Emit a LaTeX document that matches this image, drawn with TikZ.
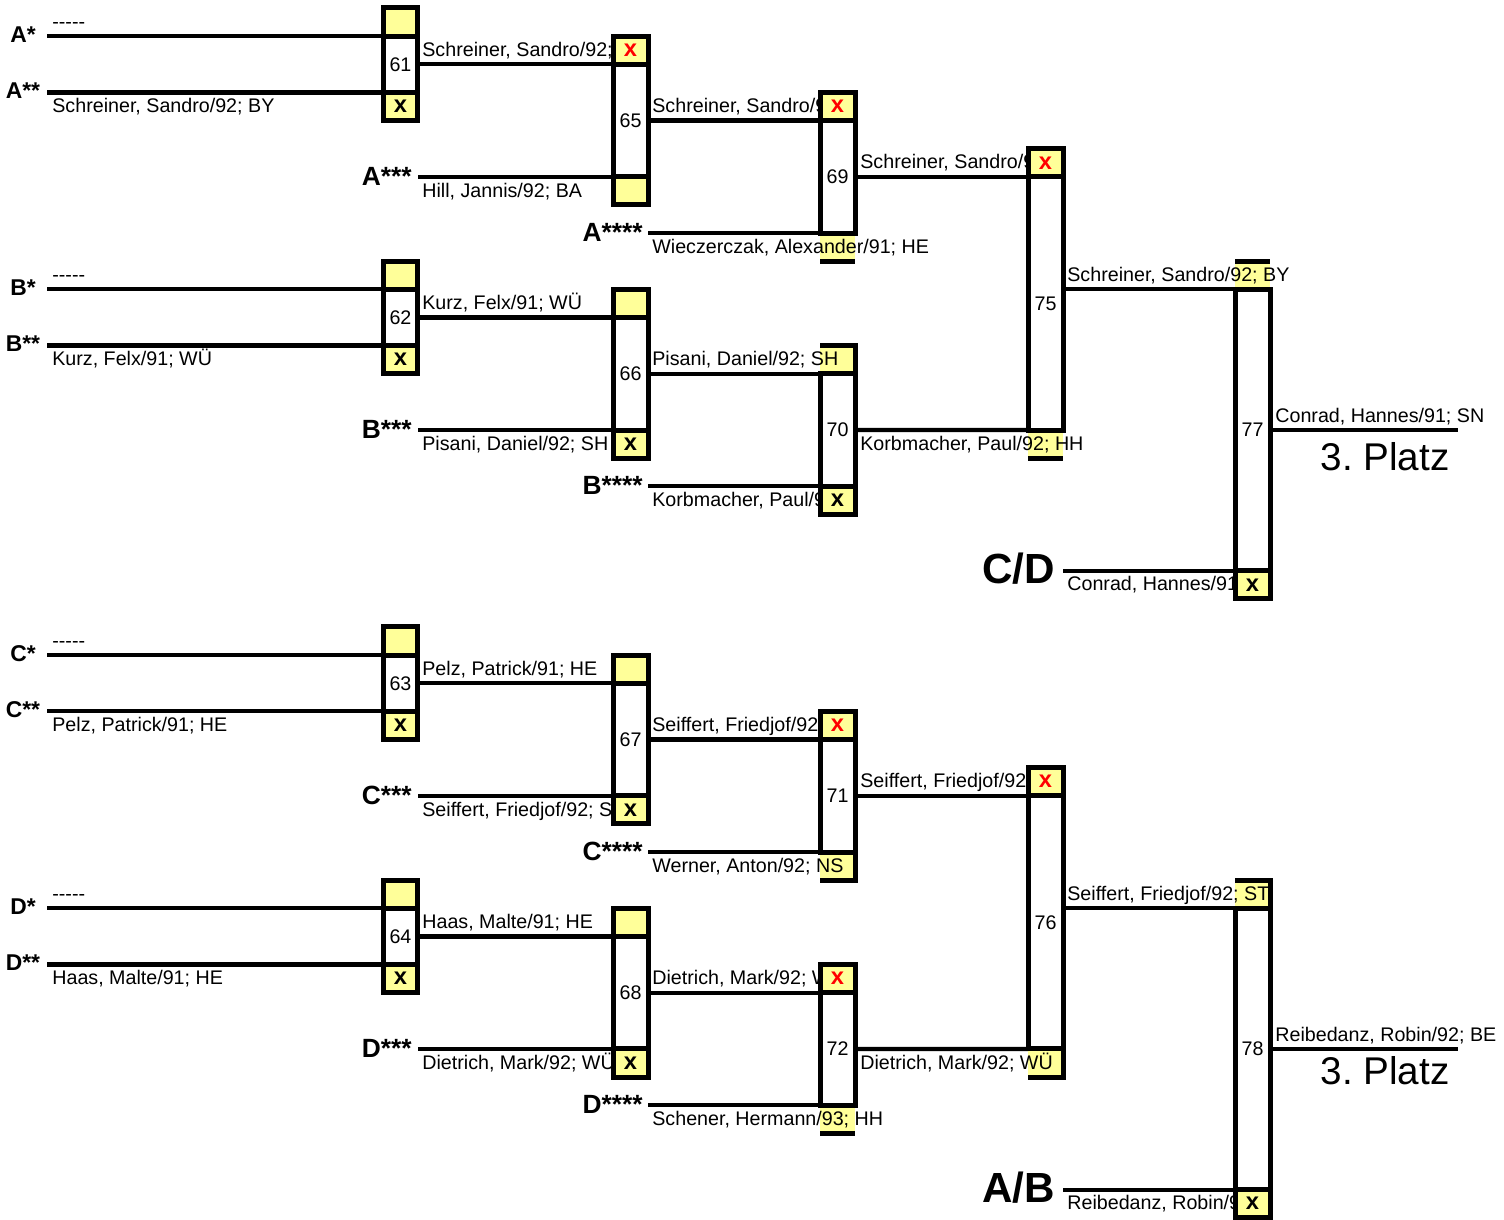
\documentclass[tikz,border=0pt]{standalone}
\usepackage{fontspec}
\setmainfont{Liberation Sans}
\frenchspacing
\definecolor{gelb}{HTML}{FFFF99}
\newcommand\gekappt[2]{\begin{scope}\clip (0,-1) rectangle (#1,44);#2\end{scope}}
\begin{document}
\begin{tikzpicture}[
        x=0.02cm, y=-0.5628cm,
        feld/.style={rectangle, fill=gelb, anchor=north west, inner sep=0pt, outer sep=0pt, minimum width=0.7cm, minimum height=0.5628cm, font=\bfseries\fontsize{13.5}{14}\selectfont},
        voll/.style={feld, draw, line width=0.1cm},
        rot/.style={text=red},
        mitte/.style={rectangle, draw, line width=0.1cm, anchor=north west, inner sep=0pt, outer sep=0pt, minimum width=0.7cm, minimum height=#1*0.5628cm, font=\fontsize{11.2}{13}\selectfont},
        rand/.style={line width=0.1cm},
        linie/.style={line width=0.085cm},
        spieler/.style={anchor=base west, inner sep=0pt, font=\fontsize{11.2}{13}\selectfont},
        klein/.style={anchor=base, inner sep=0pt, font=\bfseries\fontsize{13}{15}\selectfont},
        mittel/.style={anchor=base east, inner sep=0pt, font=\bfseries\fontsize{15}{18}\selectfont},
        gross/.style={anchor=base east, inner sep=0pt, font=\bfseries\fontsize{24}{28}\selectfont},
        platz/.style={anchor=base, inner sep=0pt, font=\fontsize{22}{26}\selectfont}
    ]
        \useasboundingbox (0,-0.2843) rectangle (1504,43.07);

        \node[voll] (o61) at (383,0) {};
        \node[voll] (u61) at (383,3) {x};
        \node[voll] (o62) at (383,9) {};
        \node[voll] (u62) at (383,12) {x};
        \node[voll, rot] (o65) at (613,1) {x};
        \node[voll] (u65) at (613,6) {};
        \node[voll] (o66) at (613,10) {};
        \node[voll] (u66) at (613,15) {x};
        \node[voll, rot] (o69) at (820,3) {x};
        \node[feld] (u69) at (820,8) {};
        \node[feld] (o70) at (820,12) {};
        \node[voll] (u70) at (820,17) {x};
        \node[voll, rot] (o75) at (1028,5) {x};
        \node[feld] (u75) at (1028,15) {};
        \node[feld] (o77) at (1235,9) {};
        \node[voll] (u77) at (1235,20) {x};

        \node[voll] (o63) at (383,22) {};
        \node[voll] (u63) at (383,25) {x};
        \node[voll] (o64) at (383,31) {};
        \node[voll] (u64) at (383,34) {x};
        \node[voll] (o67) at (613,23) {};
        \node[voll] (u67) at (613,28) {x};
        \node[voll] (o68) at (613,32) {};
        \node[voll] (u68) at (613,37) {x};
        \node[voll, rot] (o71) at (820,25) {x};
        \node[feld] (u71) at (820,30) {};
        \node[voll, rot] (o72) at (820,34) {x};
        \node[feld] (u72) at (820,39) {};
        \node[voll, rot] (o76) at (1028,27) {x};
        \node[feld] (u76) at (1028,37) {};
        \node[feld] (o78) at (1235,31) {};
        \node[voll] (u78) at (1235,42) {x};

        \node[spieler] (tA1) at (52,0.72) {-{}-{}-{}-{}-};
        \node[spieler] (tA2) at (52,3.72) {Schreiner, Sandro/92; BY};
        \gekappt{611}{\node[spieler] (t61) at (422,1.72) {Schreiner, Sandro/92;};}
        \node[spieler] (tA3) at (422,6.72) {Hill, Jannis/92; BA};
        \gekappt{818}{\node[spieler] (t65) at (652,3.72) {Schreiner, Sandro/9};}
        \node[spieler] (tA4) at (652,8.72) {Wieczerczak, Alexander/91; HE};
        \gekappt{1026}{\node[spieler] (t69) at (860,5.72) {Schreiner, Sandro/9};}
        \node[spieler] (t75) at (1067,9.72) {Schreiner, Sandro/92; BY};
        \gekappt{1233}{\node[spieler] (tCD) at (1067,20.72) {Conrad, Hannes/91};}
        \node[spieler] (t77) at (1275,14.72) {Conrad, Hannes/91; SN};
        \node[spieler] (tB1) at (52,9.72) {-{}-{}-{}-{}-};
        \node[spieler] (tB2) at (52,12.72) {Kurz, Felx/91; WÜ};
        \node[spieler] (t62) at (422,10.72) {Kurz, Felx/91; WÜ};
        \node[spieler] (tB3) at (422,15.72) {Pisani, Daniel/92; SH};
        \node[spieler] (t66) at (652,12.72) {Pisani, Daniel/92; SH};
        \gekappt{818}{\node[spieler] (tB4) at (652,17.72) {Korbmacher, Paul/9};}
        \node[spieler] (t70) at (860,15.72) {Korbmacher, Paul/92; HH};

        \node[spieler] (tC1) at (52,22.72) {-{}-{}-{}-{}-};
        \node[spieler] (tC2) at (52,25.72) {Pelz, Patrick/91; HE};
        \node[spieler] (t63) at (422,23.72) {Pelz, Patrick/91; HE};
        \gekappt{611}{\node[spieler] (tC3) at (422,28.72) {Seiffert, Friedjof/92; S};}
        \node[spieler] (t67) at (652,25.72) {Seiffert, Friedjof/92};
        \node[spieler] (tC4) at (652,30.72) {Werner, Anton/92; NS};
        \node[spieler] (t71) at (860,27.72) {Seiffert, Friedjof/92};
        \node[spieler] (t76) at (1067,31.72) {Seiffert, Friedjof/92; ST};
        \gekappt{1233}{\node[spieler] (tAB) at (1067,42.72) {Reibedanz, Robin/9};}
        \gekappt{1504}{\node[spieler] (t78) at (1275,36.72) {Reibedanz, Robin/92; BE};}
        \node[spieler] (tD1) at (52,31.72) {-{}-{}-{}-{}-};
        \node[spieler] (tD2) at (52,34.72) {Haas, Malte/91; HE};
        \node[spieler] (t64) at (422,32.72) {Haas, Malte/91; HE};
        \gekappt{611}{\node[spieler] (tD3) at (422,37.72) {Dietrich, Mark/92; WÜ};}
        \gekappt{818}{\node[spieler] (t68) at (652,34.72) {Dietrich, Mark/92; W};}
        \node[spieler] (tD4) at (652,39.72) {Schener, Hermann/93; HH};
        \node[spieler] (t72) at (860,37.72) {Dietrich, Mark/92; WÜ};

        \node[mitte=2] (m61) at (383,1) {61};
        \node[mitte=2] (m62) at (383,10) {62};
        \node[mitte=4] (m65) at (613,2) {65};
        \node[mitte=4] (m66) at (613,11) {66};
        \node[mitte=4] (m69) at (820,4) {69};
        \node[mitte=4] (m70) at (820,13) {70};
        \node[mitte=9] (m75) at (1028,6) {75};
        \node[mitte=10] (m77) at (1235,10) {77};
        \node[mitte=2] (m63) at (383,23) {63};
        \node[mitte=2] (m64) at (383,32) {64};
        \node[mitte=4] (m67) at (613,24) {67};
        \node[mitte=4] (m68) at (613,33) {68};
        \node[mitte=4] (m71) at (820,26) {71};
        \node[mitte=4] (m72) at (820,35) {72};
        \node[mitte=9] (m76) at (1028,28) {76};
        \node[mitte=10] (m78) at (1235,32) {78};

        \draw[rand] (u69.south west) -- (u69.south east);
        \draw[rand] (o70.north west) -- (o70.north east) -- (o70.south east);
        \draw[rand] (u75.south west) -- (u75.south east);
        \draw[rand] (o77.north west) -- (o77.north east);
        \draw[rand] (u71.south west) -- (u71.south east) -- (u71.north east);
        \draw[rand] (u72.south west) -- (u72.south east);
        \draw[rand] (u76.south west) -- (u76.south east) -- (u76.north east);
        \draw[rand] (o78.north west) -- (o78.north east) -- (o78.south east);

        \node[klein] (lA1) at (23,1.23) {A*};
        \node[klein] (lA2) at (23,3.22) {A**};
        \node[mittel] (lA3) at (412,6.3) {A***};
        \node[mittel] (lA4) at (643,8.3) {A****};
        \node[klein] (lB1) at (23,10.23) {B*};
        \node[klein] (lB2) at (23,12.22) {B**};
        \node[mittel] (lB3) at (412,15.3) {B***};
        \node[mittel] (lB4) at (643,17.3) {B****};
        \node[gross] (lCD) at (1055,20.44) {C/D};
        \node[klein] (lC1) at (23,23.23) {C*};
        \node[klein] (lC2) at (23,25.22) {C**};
        \node[mittel] (lC3) at (412,28.3) {C***};
        \node[mittel] (lC4) at (643,30.3) {C****};
        \node[klein] (lD1) at (23,32.23) {D*};
        \node[klein] (lD2) at (23,34.22) {D**};
        \node[mittel] (lD3) at (412,37.3) {D***};
        \node[mittel] (lD4) at (643,39.3) {D****};
        \node[gross] (lAB) at (1055,42.44) {A/B};

        \node[platz] (p77) at (1385,16.44) {3. Platz};
        \node[platz] (p78) at (1385,38.27) {3. Platz};

        \coordinate (sA1) at (47,1);
        \coordinate (sA2) at (47,3);
        \coordinate (sA3) at (418,6);
        \coordinate (sA4) at (648,8);
        \coordinate (sB1) at (47,10);
        \coordinate (sB2) at (47,12);
        \coordinate (sB3) at (418,15);
        \coordinate (sB4) at (648,17);
        \coordinate (sCD) at (1063,20);
        \coordinate (e77) at (1458,15);
        \coordinate (sC1) at (47,23);
        \coordinate (sC2) at (47,25);
        \coordinate (sC3) at (418,28);
        \coordinate (sC4) at (648,30);
        \coordinate (sD1) at (47,32);
        \coordinate (sD2) at (47,34);
        \coordinate (sD3) at (418,37);
        \coordinate (sD4) at (648,39);
        \coordinate (sAB) at (1063,42);
        \coordinate (e78) at (1458,37);

        \draw[linie] (sA1) -- (m61.north west);
        \draw[linie] (sA2) -- (m61.south west);
        \draw[linie] (m61.east) -- (m65.north west);
        \draw[linie] (sA3) -- (m65.south west);
        \draw[linie] (m65.east) -- (m69.north west);
        \draw[linie] (sA4) -- (m69.south west);
        \draw[linie] (sB1) -- (m62.north west);
        \draw[linie] (sB2) -- (m62.south west);
        \draw[linie] (m62.east) -- (m66.north west);
        \draw[linie] (sB3) -- (m66.south west);
        \draw[linie] (m66.east) -- (m70.north west);
        \draw[linie] (sB4) -- (m70.south west);
        \draw[linie] (m69.east) -- (m75.north west);
        \draw[linie] (m70.east) -- (m75.south west);
        \draw[linie] (m75.east |- m77.north west) -- (m77.north west);
        \draw[linie] (sCD) -- (m77.south west);
        \draw[linie] (m77.east) -- (e77);

        \draw[linie] (sC1) -- (m63.north west);
        \draw[linie] (sC2) -- (m63.south west);
        \draw[linie] (m63.east) -- (m67.north west);
        \draw[linie] (sC3) -- (m67.south west);
        \draw[linie] (m67.east) -- (m71.north west);
        \draw[linie] (sC4) -- (m71.south west);
        \draw[linie] (sD1) -- (m64.north west);
        \draw[linie] (sD2) -- (m64.south west);
        \draw[linie] (m64.east) -- (m68.north west);
        \draw[linie] (sD3) -- (m68.south west);
        \draw[linie] (m68.east) -- (m72.north west);
        \draw[linie] (sD4) -- (m72.south west);
        \draw[linie] (m71.east) -- (m76.north west);
        \draw[linie] (m72.east) -- (m76.south west);
        \draw[linie] (m76.east |- m78.north west) -- (m78.north west);
        \draw[linie] (sAB) -- (m78.south west);
        \draw[linie] (m78.east) -- (e78);
    \end{tikzpicture}
\end{document}
